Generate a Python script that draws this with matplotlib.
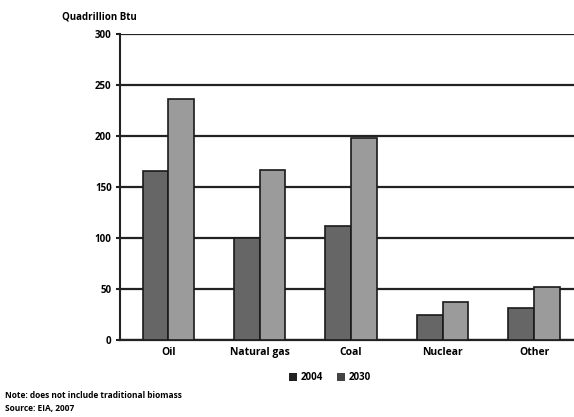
import matplotlib
matplotlib.use("Agg")
import matplotlib.pyplot as plt
import numpy as np

categories = ["Oil", "Natural gas", "Coal", "Nuclear", "Other"]
v2004 = [166, 100, 112, 25, 31]
v2030 = [236, 167, 198, 37, 52]
yticks = [0, 50, 100, 150, 200, 250, 300]

plt.rcParams['font.family'] = ['Open Sans', 'DejaVu Sans']

fig = plt.figure(figsize=5.74*np.array([1, 417/574]), dpi=100)
fig.patch.set_facecolor('white')
ax = fig.add_axes([120/574, 77/417, 1 - 120/574 + 0.01, 306/417])

x = np.arange(len(categories))
w = 0.28
ax.bar(x - w/2, v2004, w, color='#666666', edgecolor='#1a1a1a', linewidth=1.2, label='2004', zorder=3)
ax.bar(x + w/2, v2030, w, color='#9b9b9b', edgecolor='#1a1a1a', linewidth=1.2, label='2030', zorder=3)

ax.set_xlim(-0.527, 4.5)
ax.set_ylim(0, 300)
ax.set_yticks(yticks)
ax.set_yticklabels([str(t) for t in yticks], fontsize=7, fontweight='bold')
ax.set_xticks(x)
ax.set_xticklabels(categories, fontsize=7.5, fontweight='bold')
ax.tick_params(axis='x', length=0, pad=5)
ax.tick_params(axis='y', length=3, width=1.5, color='#222222', pad=3)
ax.grid(axis='y', color='#222222', linewidth=1.6, zorder=0)
for s in ['top', 'right']:
    ax.spines[s].set_visible(False)
ax.spines['left'].set_linewidth(1.5)
ax.spines['left'].set_color('#222222')
ax.spines['bottom'].set_linewidth(1.6)
ax.spines['bottom'].set_color('#222222')

fig.text(62/574, 1 - 17/417, "Quadrillion Btu", fontsize=7, fontweight='bold', va='center', ha='left')

leg = fig.legend(loc='center', bbox_to_anchor=(330/574, 1 - 378/417), ncol=2, frameon=False,
                 fontsize=7, handlelength=0.8, handleheight=0.8, columnspacing=1.5, handletextpad=0.4)
for t in leg.get_texts():
    t.set_fontweight('bold')
for h, c in zip(leg.legend_handles, ['#222222', '#444444']):
    h.set_edgecolor('none')
    h.set_facecolor(c)

fig.text(5/574, 1 - 396/417, "Note: does not include traditional biomass", fontsize=6, fontweight='bold', va='center')
fig.text(5/574, 1 - 408/417, "Source: EIA, 2007", fontsize=6, fontweight='bold', va='center')

fig.savefig("out.png", dpi=100)
